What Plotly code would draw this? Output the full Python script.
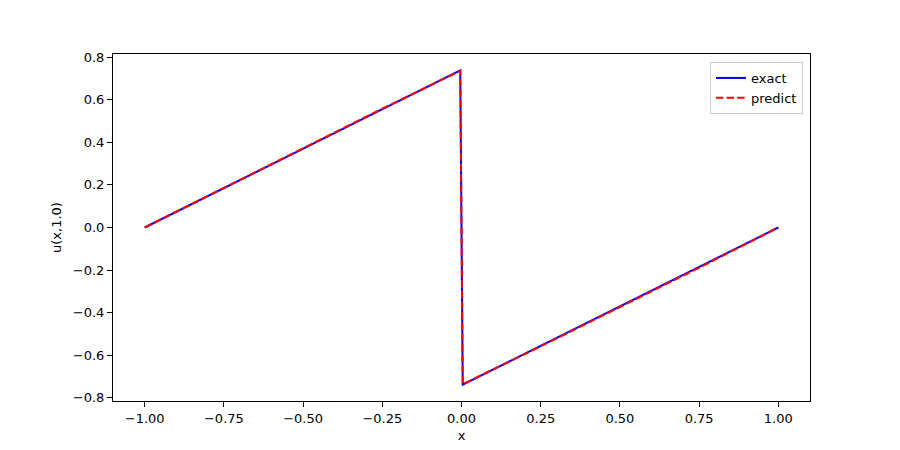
import plotly.graph_objects as go

# exact solution u(x, 1.0)
x_exact = [-1.0, -0.5, -0.0039, 0.0039, 0.5, 1.0]
u_exact = [0.0, 0.369, 0.738, -0.738, -0.369, 0.0]

# network prediction
x_pred = [-1.0, -0.75, -0.5, -0.25, -0.0039, 0.0039, 0.25, 0.5, 0.75, 1.0]
u_pred = [0.0, 0.186, 0.373, 0.558, 0.736, -0.736, -0.558, -0.374, -0.189, 0.0]

x_ticks = [-1.0, -0.75, -0.5, -0.25, 0.0, 0.25, 0.5, 0.75, 1.0]
y_ticks = [-0.8, -0.6, -0.4, -0.2, 0.0, 0.2, 0.4, 0.6, 0.8]

fig = go.Figure()
fig.add_trace(go.Scatter(x=x_exact, y=u_exact, mode="lines", name="exact",
                         line=dict(color="#0000ff", width=2)))
fig.add_trace(go.Scatter(x=x_pred, y=u_pred, mode="lines", name="predict",
                         line=dict(color="#ff0000", width=2, dash="7.4px,3.2px")))

axis_common = dict(showgrid=False, zeroline=False, showline=True, mirror=True,
                   linecolor="black", linewidth=1, ticks="outside", ticklen=5,
                   tickwidth=1, tickcolor="black",
                   tickfont=dict(family="DejaVu Sans", size=13, color="black"))

fig.update_layout(
    width=900, height=450,
    margin=dict(l=105, r=98, t=46, b=57),
    paper_bgcolor="white", plot_bgcolor="white",
    font=dict(family="DejaVu Sans", size=13, color="black"),
    xaxis=dict(range=[-1.1, 1.1], tickvals=x_ticks, tickformat=".2f",
               title=dict(text="x", standoff=6, font=dict(size=13)), **axis_common),
    yaxis=dict(range=[-0.815, 0.815], tickvals=y_ticks, tickformat=".1f",
               title=dict(text="u(x,1.0)", standoff=8, font=dict(size=13)), **axis_common),
    legend=dict(x=0.99, y=0.977, xanchor="right", yanchor="top",
                bgcolor="rgba(255,255,255,0.8)", bordercolor="#cccccc",
                borderwidth=1, tracegroupgap=4,
                font=dict(family="DejaVu Sans", size=13)),
    showlegend=True,
)

fig.write_html("out.html")
